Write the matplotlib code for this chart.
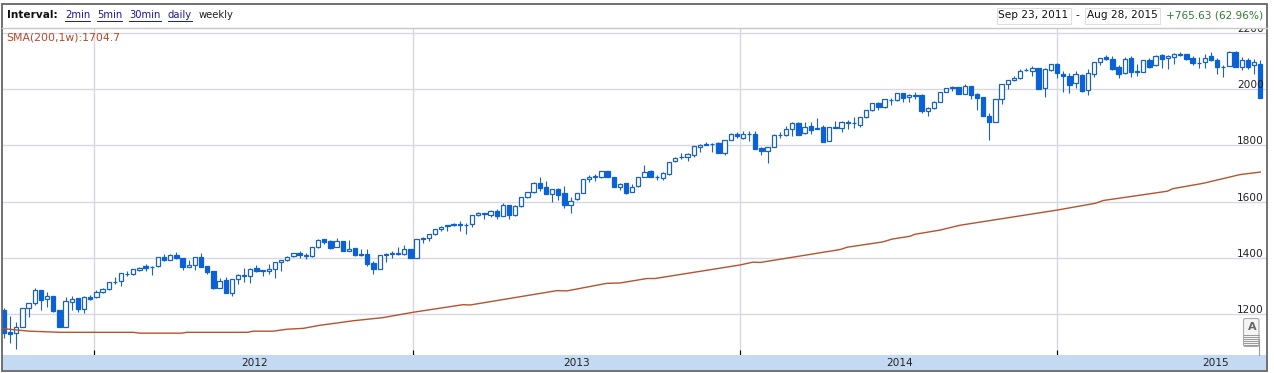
import numpy as np
import matplotlib
matplotlib.use("Agg")
import matplotlib.pyplot as plt
from matplotlib.patches import Rectangle, FancyBboxPatch
from matplotlib.transforms import Bbox

W, H = 1274, 373

# weekly candles
opens = [
    1215, 1137, 1135, 1156, 1224, 1239, 1286, 1253, 1265, 1215,
    1156, 1245, 1257, 1220, 1263, 1260, 1278, 1289, 1314, 1317,
    1344, 1342, 1357, 1372, 1369, 1372, 1402, 1394, 1410, 1399,
    1369, 1376, 1402, 1372, 1353, 1295, 1322, 1277, 1324, 1341,
    1335, 1363, 1357, 1355, 1362, 1385, 1392, 1406, 1417, 1406,
    1406, 1438, 1466, 1460, 1440, 1460, 1426, 1434, 1414, 1413,
    1381, 1360, 1409, 1414, 1416, 1413, 1431, 1401, 1466, 1472,
    1484, 1502, 1516, 1521, 1519, 1517, 1519, 1551, 1558, 1554,
    1568, 1550, 1587, 1554, 1583, 1615, 1633, 1665, 1651, 1628,
    1644, 1630, 1587, 1608, 1632, 1679, 1689, 1689, 1708, 1686,
    1653, 1665, 1635, 1655, 1689, 1710, 1689, 1685, 1697, 1743,
    1760, 1760, 1767, 1795, 1805, 1805, 1808, 1774, 1820, 1840,
    1827, 1840, 1840, 1790, 1781, 1795, 1835, 1835, 1857, 1879,
    1843, 1867, 1860, 1864, 1817, 1864, 1861, 1880, 1880, 1873,
    1899, 1924, 1949, 1935, 1962, 1960, 1985, 1970, 1978, 1979,
    1923, 1931, 1955, 1991, 2004, 2006, 1983, 2009, 1981, 1971,
    1905, 1884, 1963, 2016, 2032, 2038, 2069, 2064, 2076, 2002,
    2067, 2089, 2053, 2046, 2022, 2050, 1995, 2052, 2095, 2112,
    2106, 2077, 2056, 2109, 2063, 2061, 2104, 2085, 2120, 2109,
    2115, 2123, 2123, 2110, 2092, 2095, 2117, 2104, 2077, 2082,
    2133, 2077, 2104, 2084, 2088,
]
closes = [
    1135, 1131, 1156, 1224, 1239, 1286, 1251, 1265, 1212, 1156,
    1246, 1256, 1220, 1263, 1254, 1278, 1289, 1316, 1316, 1346,
    1342, 1360, 1366, 1366, 1368, 1402, 1394, 1410, 1399, 1369,
    1376, 1402, 1369, 1350, 1293, 1317, 1277, 1324, 1341, 1335,
    1362, 1355, 1355, 1362, 1385, 1392, 1405, 1417, 1410, 1411,
    1438, 1464, 1458, 1437, 1459, 1426, 1433, 1412, 1412, 1379,
    1360, 1409, 1415, 1416, 1413, 1431, 1401, 1466, 1472, 1484,
    1502, 1511, 1512, 1518, 1516, 1516, 1551, 1558, 1556, 1568,
    1550, 1588, 1554, 1585, 1615, 1633, 1667, 1647, 1628, 1644,
    1625, 1589, 1603, 1632, 1679, 1689, 1691, 1708, 1689, 1653,
    1662, 1632, 1653, 1686, 1706, 1689, 1686, 1703, 1742, 1756,
    1757, 1770, 1796, 1802, 1802, 1803, 1774, 1818, 1839, 1832,
    1840, 1839, 1788, 1780, 1795, 1838, 1838, 1857, 1878, 1838,
    1864, 1854, 1857, 1813, 1864, 1863, 1882, 1882, 1878, 1899,
    1924, 1949, 1935, 1963, 1960, 1985, 1967, 1979, 1975, 1923,
    1931, 1954, 1988, 2002, 2006, 1982, 2012, 1979, 1968, 1905,
    1884, 1963, 2016, 2031, 2039, 2064, 2066, 2074, 2000, 2071,
    2089, 2056, 2045, 2014, 2052, 1993, 2056, 2095, 2109, 2106,
    2072, 2054, 2106, 2059, 2060, 2102, 2078, 2117, 2105, 2118,
    2124, 2121, 2106, 2091, 2091, 2111, 2104, 2079, 2079, 2133,
    2079, 2104, 2077, 2095, 1969,
]
highs = [
    1221, 1194, 1172, 1224, 1239, 1292, 1286, 1278, 1265, 1215,
    1260, 1265, 1257, 1265, 1267, 1286, 1295, 1316, 1331, 1346,
    1354, 1362, 1368, 1379, 1372, 1405, 1413, 1414, 1421, 1399,
    1393, 1405, 1417, 1372, 1353, 1328, 1334, 1327, 1343, 1363,
    1365, 1375, 1357, 1379, 1387, 1393, 1407, 1419, 1426, 1417,
    1440, 1466, 1466, 1464, 1470, 1460, 1464, 1434, 1433, 1433,
    1390, 1409, 1419, 1423, 1438, 1447, 1431, 1466, 1474, 1484,
    1502, 1514, 1516, 1525, 1531, 1525, 1554, 1562, 1558, 1570,
    1573, 1596, 1589, 1588, 1615, 1633, 1670, 1686, 1672, 1644,
    1647, 1656, 1618, 1632, 1679, 1693, 1698, 1710, 1708, 1689,
    1665, 1667, 1663, 1688, 1730, 1712, 1695, 1706, 1742, 1757,
    1774, 1774, 1798, 1805, 1813, 1809, 1812, 1819, 1843, 1846,
    1850, 1850, 1850, 1795, 1795, 1839, 1846, 1869, 1883, 1882,
    1883, 1883, 1896, 1871, 1866, 1885, 1888, 1890, 1899, 1902,
    1925, 1951, 1954, 1966, 1968, 1987, 1987, 1982, 1989, 1981,
    1935, 1956, 1991, 2004, 2011, 2008, 2016, 2012, 1986, 1971,
    1914, 1963, 2016, 2032, 2045, 2071, 2073, 2080, 2076, 2073,
    2090, 2091, 2064, 2056, 2064, 2052, 2071, 2097, 2111, 2121,
    2116, 2085, 2114, 2116, 2088, 2104, 2109, 2121, 2123, 2121,
    2128, 2133, 2125, 2116, 2114, 2125, 2133, 2109, 2085, 2135,
    2135, 2114, 2111, 2106, 2103,
]
lows = [
    1115, 1097, 1076, 1156, 1192, 1233, 1215, 1227, 1208, 1156,
    1156, 1215, 1209, 1203, 1251, 1257, 1277, 1286, 1307, 1301,
    1337, 1341, 1355, 1355, 1341, 1369, 1389, 1393, 1395, 1356,
    1367, 1357, 1369, 1342, 1291, 1292, 1277, 1266, 1308, 1316,
    1310, 1349, 1336, 1343, 1330, 1355, 1389, 1402, 1399, 1398,
    1402, 1436, 1450, 1431, 1438, 1426, 1426, 1407, 1407, 1371,
    1343, 1360, 1387, 1399, 1412, 1411, 1401, 1401, 1452, 1460,
    1481, 1497, 1496, 1513, 1497, 1485, 1511, 1549, 1540, 1547,
    1540, 1548, 1537, 1549, 1582, 1613, 1632, 1637, 1627, 1599,
    1606, 1577, 1561, 1606, 1632, 1670, 1675, 1684, 1686, 1651,
    1641, 1627, 1634, 1653, 1686, 1686, 1677, 1677, 1695, 1742,
    1750, 1745, 1760, 1777, 1800, 1777, 1771, 1767, 1819, 1825,
    1821, 1814, 1786, 1767, 1738, 1793, 1825, 1833, 1833, 1837,
    1840, 1840, 1857, 1812, 1815, 1860, 1847, 1857, 1861, 1866,
    1897, 1921, 1925, 1933, 1942, 1957, 1953, 1955, 1963, 1916,
    1904, 1928, 1953, 1988, 1994, 1981, 1981, 1964, 1925, 1905,
    1820, 1883, 1948, 2000, 2029, 2035, 2064, 2047, 2000, 1971,
    2064, 2040, 1990, 1987, 2005, 1990, 1979, 2044, 2085, 2102,
    2069, 2040, 2054, 2044, 2047, 2059, 2073, 2083, 2073, 2071,
    2088, 2117, 2102, 2085, 2073, 2076, 2099, 2054, 2044, 2080,
    2077, 2066, 2070, 2054, 1969,
]

# SMA line, knots (week number, value)
sma_weeks = [0, 2.1, 4.2, 9.1, 20.9, 22.1, 28.9, 29.7, 39.6, 40.4, 43.7, 46, 48.6,
             51.3, 53.4, 56.7, 61.5, 66.4, 74.5, 75.7, 89.8, 91.4, 97.9, 100,
             104.4, 105.7, 119.5, 121.6, 122.8, 135.8, 136.9, 142.7, 144.2,
             147.1, 147.9, 152, 155.2, 171, 177.2, 178.5, 188.9, 189.8, 194.7,
             198, 200.7, 204]
sma_values = [1149, 1144, 1140, 1136, 1136, 1133, 1133, 1136, 1136, 1140, 1140, 1147, 1150,
              1161, 1167, 1177, 1188, 1207, 1234, 1233, 1284, 1283, 1310, 1311,
              1327, 1327, 1375, 1385, 1384, 1430, 1438, 1457, 1467,
              1477, 1484, 1499, 1516, 1570, 1594, 1604, 1637, 1646, 1665,
              1682, 1696, 1705]

price_levels = [1200, 1400, 1600, 1800, 2000, 2200]
year_weeks = [14.66, 66.47, 119.57, 171.05]
year_labels = ["2012", "2013", "2014", "2015"]
year_label_x = [255, 577, 900, 1216]

GRID = "#d8d8e2"
BLUE = "#0a62d6"
EDGE = "#1c62b8"
SMA = "#b5532e"
BAND = "#c4daf3"
FRAME = "#666666"

fig = plt.figure(figsize=(W / 100, H / 100), dpi=100)
fig.patch.set_facecolor("white")

# main chart, x is the week number
ax = fig.add_axes([2 / W, 1 - 355 / H, 1265 / W, 327 / H])
ax.set_xlim(-0.325, 205.09)
ax.set_ylim(1055.4, 2216.6)
for s in ax.spines.values():
    s.set_visible(False)

ax.set_yticks(price_levels)
ax.set_yticklabels([])
ax.set_xticks(year_weeks)
ax.set_xticklabels([])
ax.tick_params(axis="y", length=0)
ax.tick_params(axis="x", direction="in", length=3.6, width=0.8, color="black")
ax.grid(True, color=GRID, lw=1.0)
ax.set_axisbelow(True)

weeks = np.arange(len(opens))
o = np.array(opens)
c = np.array(closes)
down = c < o
ax.vlines(weeks, lows, highs, color=EDGE, lw=0.8, zorder=2)
faces = [BLUE if d else "white" for d in down]
edges = [BLUE if d else EDGE for d in down]
ax.bar(weeks, np.abs(c - o), bottom=np.minimum(o, c), width=0.7,
       color=faces, edgecolor=edges, linewidth=0.9, zorder=3)
ax.plot(sma_weeks, sma_values, color=SMA, lw=1.0, zorder=4)

for level in price_levels:
    ax.text(0.9975, level + 4, str(level), transform=ax.get_yaxis_transform(),
            ha="right", va="baseline", fontsize=7.6, color="#222222", zorder=6, clip_on=True)

# page furniture, in pixel coordinates on a full-figure overlay
ui = fig.add_axes([0, 0, 1, 1], zorder=5)
ui.set_xlim(0, W)
ui.set_ylim(H, 0)
ui.axis("off")

ui.add_patch(Rectangle((2, 355), 1265, 15, fc=BAND, ec="none"))
for x, label in zip(year_label_x, year_labels):
    ui.text(x, 362.5, label, ha="center", va="center", fontsize=7.6, color="#222222")

ui.plot([2, 1267], [27.5, 27.5], color="#c8c8c8", lw=1.0)
ui.add_patch(Rectangle((1.5, 3.5), 1265.5, 367, fc="none", ec=FRAME, lw=1.3))

ui.text(7, 15.5, "Interval:", ha="left", va="center", fontsize=7.6, fontweight="bold", color="#111111")
link_x = [65, 97, 129, 168]
link_end = [90, 122, 161, 192]
link_text = ["2min", "5min", "30min", "daily"]
for x0, x1, label in zip(link_x, link_end, link_text):
    ui.text(x0, 15.5, label, ha="left", va="center", fontsize=7.2, color="#1a1a99")
    ui.plot([x0, x1], [20.5, 20.5], color="#1a1a99", lw=0.7)
ui.text(199, 15.5, "weekly", ha="left", va="center", fontsize=7.2, color="#222222")

ui.add_patch(Rectangle((996.5, 7.5), 74, 16, fc="white", ec="#e0e0e0", lw=0.8))
ui.add_patch(Rectangle((1084.5, 7.5), 75, 16, fc="white", ec="#e0e0e0", lw=0.8))
ui.text(1033.5, 15.5, "Sep 23, 2011", ha="center", va="center", fontsize=7.6, color="#111111")
ui.text(1077, 15.5, "-", ha="center", va="center", fontsize=7.6, color="#111111")
ui.text(1122, 15.5, "Aug 28, 2015", ha="center", va="center", fontsize=7.6, color="#111111")
ui.text(1263, 15.5, "+765.63 (62.96%)", ha="right", va="center", fontsize=7.6, color="#2f7d32")

# the SMA label is cut off by its box in the original
sma_label = ui.text(6, 37.5, "SMA(200,1w):1704.79", ha="left", va="center", fontsize=7.8, color="#b5482a")
sma_label.set_clip_box(Bbox.from_extents(0, 0, 120, H))
sma_label.set_clip_on(True)

# "A" flag
ui.plot([1259, 1259], [340, 355], color="#999999", lw=0.8)
ui.add_patch(FancyBboxPatch((1243.5, 318.5), 15.5, 28, boxstyle="round,pad=0,rounding_size=2",
                            fc="#f4f4f4", ec="#aaaaaa", lw=0.8))
for y in [335, 337, 339, 341, 343, 345]:
    ui.plot([1244, 1258.5], [y, y], color="#999999", lw=0.7)
ui.text(1252, 327, "A", ha="center", va="center", fontsize=8, fontweight="bold", color="#666666")

fig.savefig("out.png", dpi=100)
